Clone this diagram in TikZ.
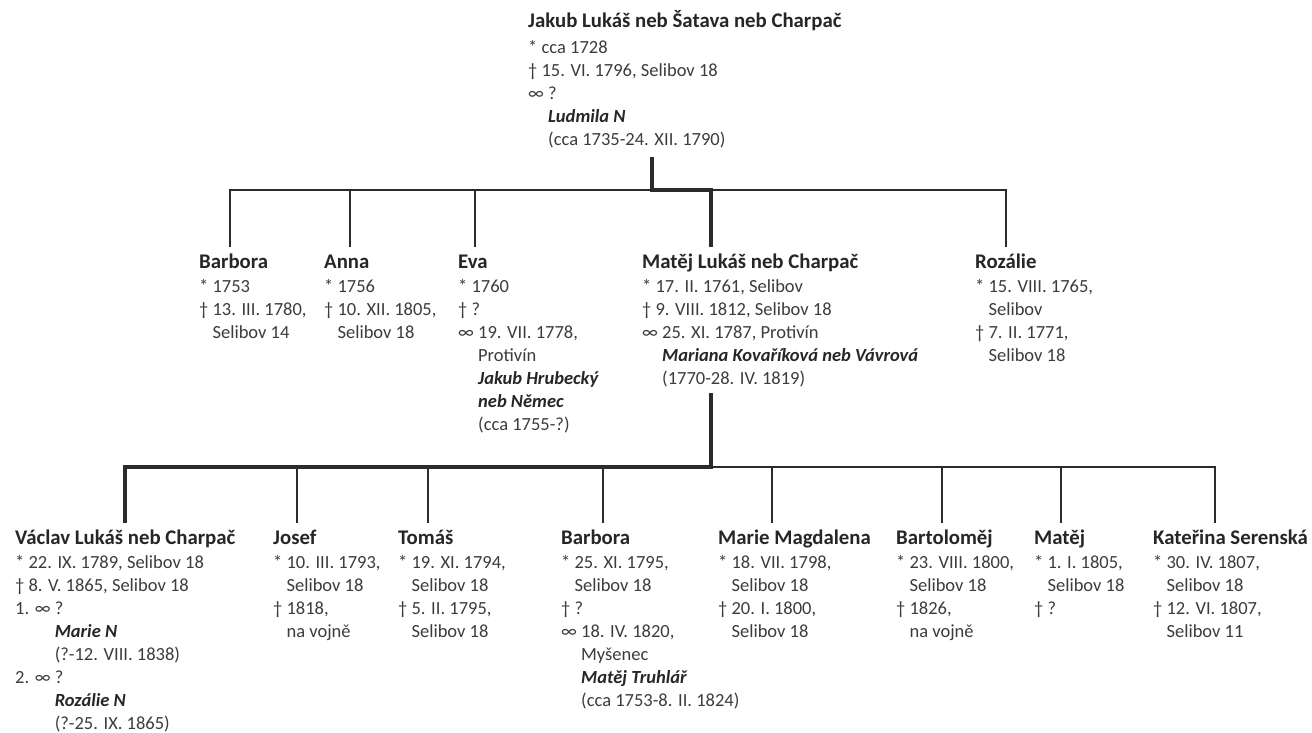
\documentclass[tikz,border=0pt]{standalone}
\usepackage{fontspec}
\setmainfont{Carlito}
\usetikzlibrary{positioning,calc}
\definecolor{txt}{HTML}{3C3C3C}
\definecolor{nmc}{HTML}{262626}
\definecolor{lnc}{HTML}{2B2B2B}
\newcommand{\nm}[1]{{\fontsize{20.8}{23}\selectfont\bfseries\color{nmc}\rule{0pt}{18pt}#1}}
\newcommand{\spouse}[1]{{\bfseries\itshape\color{nmc}#1}}
\newcommand{\gap}[1]{\hphantom{#1}}

\begin{document}
\begin{tikzpicture}[x=1pt, y=-1pt,
    person/.style={anchor=north west, align=left, inner sep=0pt, text=txt,
      font=\fontsize{18.5}{23}\selectfont},
    tie/.style={draw=lnc, line width=2pt},
    bloodline/.style={draw=lnc, line width=4pt}
  ]

  \fill[white] (0,0) rectangle (1312,733);
  \useasboundingbox (0,0) rectangle (1312,733);

  %% Generation 1
  \node[person] (jakub) at (528,9) {\nm{Jakub Lukáš neb Šatava neb Charpač}\\[3pt]
    * cca 1728\\ † 15. VI. 1796, Selibov 18\\ ∞ ?\\
    \gap{∞ }\spouse{Ludmila N}\\ \gap{∞ }(cca 1735-24. XII. 1790)};

  %% Generation 2
  \node[person] (barbora1) at (199,250) {\nm{Barbora}\\[1pt]
    * 1753\\ † 13. III. 1780,\\ \gap{† }Selibov 14};
  \node[person] (anna) at (324,250) {\nm{Anna}\\[1pt]
    * 1756\\ † 10. XII. 1805,\\ \gap{† }Selibov 18};
  \node[person] (eva) at (458,250) {\nm{Eva}\\[1pt]
    * 1760\\ † ?\\ ∞ 19. VII. 1778,\\ \gap{∞ }Protivín\\
    \gap{∞ }\spouse{Jakub Hrubecký}\\ \gap{∞ }\spouse{neb Němec}\\
    \gap{∞ }(cca 1755-?)};
  \node[person] (matej1) at (642,250) {\nm{Matěj Lukáš neb Charpač}\\[1pt]
    * 17. II. 1761, Selibov\\ † 9. VIII. 1812, Selibov 18\\
    ∞ 25. XI. 1787, Protivín\\
    \gap{∞ }\spouse{Mariana Kovaříková neb Vávrová}\\ \gap{∞ }(1770-28. IV. 1819)};
  \node[person] (rozalie1) at (975,250) {\nm{Rozálie}\\[1pt]
    * 15. VIII. 1765,\\ \gap{* }Selibov\\ † 7. II. 1771,\\ \gap{† }Selibov 18};

  %% Generation 3
  \node[person] (vaclav) at (15,526) {\nm{Václav Lukáš neb Charpač}\\[1pt]
    * 22. IX. 1789, Selibov 18\\ † 8. V. 1865, Selibov 18\\ 1. ∞ ?\\
    \gap{1. ∞ }\spouse{Marie N}\\ \gap{1. ∞ }(?-12. VIII. 1838)\\ 2. ∞ ?\\
    \gap{2. ∞ }\spouse{Rozálie N}\\ \gap{2. ∞ }(?-25. IX. 1865)};
  \node[person] (josef) at (273,526) {\nm{Josef}\\[1pt]
    * 10. III. 1793,\\ \gap{* }Selibov 18\\ † 1818,\\ \gap{† }na vojně};
  \node[person] (tomas) at (398,526) {\nm{Tomáš}\\[1pt]
    * 19. XI. 1794,\\ \gap{* }Selibov 18\\ † 5. II. 1795,\\ \gap{† }Selibov 18};
  \node[person] (barbora2) at (561,526) {\nm{Barbora}\\[1pt]
    * 25. XI. 1795,\\ \gap{* }Selibov 18\\ † ?\\ ∞ 18. IV. 1820,\\
    \gap{∞ }Myšenec\\ \gap{∞ }\spouse{Matěj Truhlář}\\ \gap{∞ }(cca 1753-8. II. 1824)};
  \node[person] (marie) at (718,526) {\nm{Marie Magdalena}\\[1pt]
    * 18. VII. 1798,\\ \gap{* }Selibov 18\\ † 20. I. 1800,\\ \gap{† }Selibov 18};
  \node[person] (bartolomej) at (896,526) {\nm{Bartoloměj}\\[1pt]
    * 23. VIII. 1800,\\ \gap{* }Selibov 18\\ † 1826,\\ \gap{† }na vojně};
  \node[person] (matej2) at (1034,526) {\nm{Matěj}\\[1pt]
    * 1. I. 1805,\\ \gap{* }Selibov 18\\ † ?};
  \node[person] (katerina) at (1153,526) {\nm{Kateřina Serenská}\\[1pt]
    * 30. IV. 1807,\\ \gap{* }Selibov 18\\ † 12. VI. 1807,\\ \gap{† }Selibov 11};

  %% Hooks above each child and forks
  \foreach \n/\x in {barbora1/230, anna/350, eva/475, matej1/711, rozalie1/1006}{
    \coordinate (\n-up) at (\x,247);
  }
  \foreach \n/\x in {vaclav/125, josef/297, tomas/428, barbora2/603,
                     marie/772, bartolomej/942, matej2/1061, katerina/1215}{
    \coordinate (\n-up) at (\x,523);
  }
  \coordinate (jakub-d) at (652,157);
  \coordinate (matej1-d) at (711,393);
  \coordinate (fork1) at (652,190);
  \coordinate (fork2) at (711,467);

  %% Children of Jakub
  \draw[tie] (barbora1-up) -- (barbora1-up |- fork1) -- (rozalie1-up |- fork1)
    -- (rozalie1-up);
  \foreach \n in {anna, eva}{
    \draw[tie] (\n-up) -- (\n-up |- fork1);
  }
  \draw[bloodline] (jakub-d) -- (fork1) -| (matej1-up);

  %% Children of Matej
  \draw[tie] (fork2) -- (katerina-up |- fork2) -- (katerina-up);
  \foreach \n in {josef, tomas, barbora2, marie, bartolomej, matej2}{
    \draw[tie] (\n-up) -- (\n-up |- fork2);
  }
  \draw[bloodline] (matej1-d) -- (fork2) -| (vaclav-up);

\end{tikzpicture}
\end{document}
